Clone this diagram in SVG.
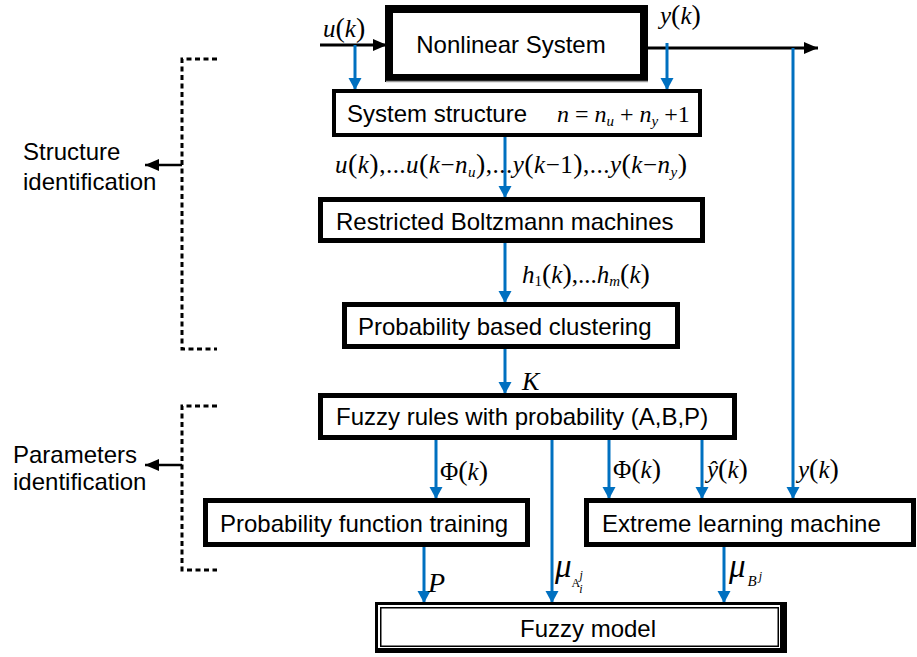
<svg xmlns="http://www.w3.org/2000/svg" width="917" height="657" viewBox="0 0 917 657">
<style>
.box{fill:#fff;stroke:#000;stroke-width:5}
.t{font-family:"Liberation Sans",Arial,sans-serif;font-size:24px;fill:#000}
.m{font-family:"Liberation Serif","Times New Roman",serif;font-style:italic;font-size:25px;fill:#000}
.p{font-style:normal;font-size:28px}
.n{font-style:normal}
.s{font-size:15px}
.ss{font-size:12px}
.blue{stroke:#0070C0;stroke-width:3;fill:none;marker-end:url(#ab)}
.blk{stroke:#000;stroke-width:3;fill:none;marker-end:url(#ak)}
.dash{stroke:#000;stroke-width:3;fill:none;stroke-dasharray:5 3.5}
</style>
<defs>
<marker id="ab" markerUnits="userSpaceOnUse" markerWidth="14" markerHeight="14" refX="12" refY="7" orient="auto">
<path d="M0,0.5 L12,7 L0,13.5 Z" fill="#0070C0"/>
</marker>
<marker id="ak" markerUnits="userSpaceOnUse" markerWidth="16" markerHeight="14" refX="14" refY="7" orient="auto">
<path d="M0,1 L14,7 L0,13 Z" fill="#000"/>
</marker>
</defs>

<g id="connectors">
<line class="blk" x1="320" y1="45" x2="387" y2="45"/>
<line class="blk" x1="648" y1="48" x2="818" y2="48"/>
<line class="blue" x1="355" y1="45" x2="355" y2="90"/>
<line class="blue" x1="667" y1="43" x2="667" y2="90"/>
<line class="blue" x1="793" y1="48" x2="793" y2="499"/>
<line class="blue" x1="505" y1="137" x2="505" y2="198"/>
<line class="blue" x1="505" y1="243" x2="505" y2="303"/>
<line class="blue" x1="505" y1="349" x2="505" y2="394"/>
<line class="blue" x1="436" y1="440" x2="436" y2="499"/>
<line class="blue" x1="552" y1="440" x2="552" y2="603"/>
<line class="blue" x1="609" y1="440" x2="609" y2="499"/>
<line class="blue" x1="702" y1="440" x2="702" y2="499"/>
<line class="blue" x1="424" y1="547" x2="424" y2="603"/>
<line class="blue" x1="724" y1="547" x2="724" y2="603"/>
<path class="dash" d="M217,59 H182 V349 H217"/>
<path class="dash" d="M217,406 H182 V570 H217"/>
<line class="blk" x1="182" y1="165" x2="145" y2="165" style="stroke-width:2.5"/>
<line class="blk" x1="182" y1="465" x2="145" y2="465" style="stroke-width:2.5"/>
</g>

<g id="labels">
<text class="t" x="23" y="160">Structure</text>
<text class="t" x="23" y="190">identification</text>
<text class="t" x="13" y="463">Parameters</text>
<text class="t" x="13" y="490">identification</text>
<text class="m" x="323" y="37">u<tspan class="p">(</tspan>k<tspan class="p">)</tspan></text>
<text class="m" x="660" y="24">y<tspan class="p">(</tspan>k<tspan class="p">)</tspan></text>
<text class="m" x="335" y="173" textLength="352" lengthAdjust="spacing">u<tspan class="p">(</tspan>k<tspan class="p">)</tspan><tspan class="n">,...</tspan>u<tspan class="p">(</tspan>k<tspan class="n">−</tspan>n<tspan class="s" dy="4">u</tspan><tspan class="p" dy="-4">)</tspan><tspan class="n">,...</tspan>y<tspan class="p">(</tspan>k<tspan class="n">−1</tspan><tspan class="p">)</tspan><tspan class="n">,...</tspan>y<tspan class="p">(</tspan>k<tspan class="n">−</tspan>n<tspan class="s" dy="4">y</tspan><tspan class="p" dy="-4">)</tspan></text>
<text class="m" x="522" y="283">h<tspan class="s n" dy="3">1</tspan><tspan class="p" dy="-3">(</tspan>k<tspan class="p">)</tspan><tspan class="n">,...</tspan>h<tspan class="s" dy="3">m</tspan><tspan class="p" dy="-3">(</tspan>k<tspan class="p">)</tspan></text>
<text class="m" x="522" y="390" style="font-size:26px">K</text>
<text class="m" x="440" y="480"><tspan class="n">Φ</tspan><tspan class="p">(</tspan>k<tspan class="p">)</tspan></text>
<text class="m" x="613" y="478"><tspan class="n">Φ</tspan><tspan class="p">(</tspan>k<tspan class="p">)</tspan></text>
<text class="m" x="707" y="478">ŷ<tspan class="p">(</tspan>k<tspan class="p">)</tspan></text>
<text class="m" x="798" y="478">y<tspan class="p">(</tspan>k<tspan class="p">)</tspan></text>
<text class="m" x="428" y="592" style="font-size:28px">P</text>
<text class="m" x="555" y="577" style="font-size:33px">μ<tspan class="ss n" dy="10">A</tspan><tspan class="ss" dy="6" dx="-1">i</tspan><tspan class="ss" dy="-14" dx="-3">j</tspan></text>
<text class="m" x="729" y="577" style="font-size:33px">μ<tspan class="s" dy="9" dx="2">B</tspan><tspan class="ss" dy="-6" dx="2">j</tspan></text>
</g>

<g id="nonlinear-system">
<rect x="389" y="9" width="255" height="69" fill="#fff" stroke="#000" stroke-width="8"/>
<line x1="386" y1="81.5" x2="648" y2="81.5" stroke="#999" stroke-width="1.5"/>
<text class="t" x="511" y="53" text-anchor="middle">Nonlinear System</text>
</g>

<g id="system-structure">
<rect class="box" x="334" y="91" width="366" height="44" style="stroke-width:4"/>
<text class="t" x="347" y="122">System structure</text>
<text class="m" x="557" y="122" style="font-size:24px">n<tspan class="n"> = </tspan>n<tspan class="s" dy="4">u</tspan><tspan class="n" dy="-4"> + </tspan>n<tspan class="s" dy="4">y</tspan><tspan class="n" dy="-4"> +1</tspan></text>
</g>

<g id="rbm">
<rect class="box" x="320.5" y="199.5" width="382" height="41"/>
<text class="t" x="336" y="230">Restricted Boltzmann machines</text>
</g>

<g id="clustering">
<rect class="box" x="344.5" y="304.5" width="333" height="42"/>
<text class="t" x="358" y="335">Probability based clustering</text>
</g>

<g id="fuzzy-rules">
<rect class="box" x="320.5" y="395.5" width="414" height="42"/>
<text class="t" x="336" y="425">Fuzzy rules with probability (A,B,P)</text>
</g>

<g id="prob-training">
<rect class="box" x="205.5" y="500.5" width="322" height="44"/>
<text class="t" x="220" y="532">Probability function training</text>
</g>

<g id="elm">
<rect class="box" x="586.5" y="500.5" width="327" height="44"/>
<text class="t" x="602" y="532">Extreme learning machine</text>
</g>

<g id="fuzzy-model">
<path d="M375,602 H787 V653 H375 Z M378,605 V648 H780 V605 Z" fill="#000" fill-rule="evenodd"/>
<rect x="378" y="605" width="402" height="43" fill="#fff"/>
<rect x="380.75" y="607.75" width="397.5" height="38.5" fill="none" stroke="#000" stroke-width="1.5"/>
<text class="t" x="520" y="637">Fuzzy model</text>
</g>
</svg>
